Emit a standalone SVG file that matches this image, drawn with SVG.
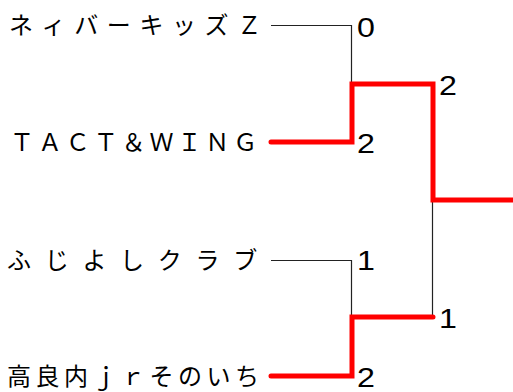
<svg xmlns="http://www.w3.org/2000/svg" width="513" height="392" viewBox="0 0 513 392">
<style>
.team{font-family:"Noto Sans CJK JP","Noto Sans",sans-serif;font-size:24px;fill:#000}
.score{font-family:"Liberation Sans",Arial,sans-serif;font-size:28px;fill:#000}
.thin{fill:none;stroke:#222;stroke-width:1.2}
.win{fill:none;stroke:#ff0000;stroke-width:5;stroke-linecap:round;stroke-linejoin:miter}
</style>
<rect width="513" height="392" fill="#fff"/>
<g id="connectors">
<path class="thin" d="M271,25.5 H351.5 V84"/>
<path class="thin" d="M271,260.5 H351.5 V317"/>
<path class="thin" d="M432.5,200 V317"/>
<path class="win" d="M271,142 H352 V84 H433 V200 H515"/>
<path class="win" d="M271,376 H352 V317 H433"/>
</g>
<g id="team1"><text class="team" x="9" y="34" letter-spacing="8.6">ネィバーキッズＺ</text></g>
<g id="team2"><text class="team" x="10" y="151" letter-spacing="3.9">ＴＡＣＴ＆ＷＩＮＧ</text></g>
<g id="team3"><text class="team" x="7" y="269" letter-spacing="13.7">ふじよしクラブ</text></g>
<g id="team4"><text class="team" x="7" y="385" letter-spacing="4.5">高良内ｊｒそのいち</text></g>
<g id="score1"><text class="score" transform="translate(357,37) scale(1.15,1)">0</text></g>
<g id="score2"><text class="score" transform="translate(357,153) scale(1.15,1)">2</text></g>
<g id="score3"><text class="score" transform="translate(357,270) scale(1.15,1)">1</text></g>
<g id="score4"><text class="score" transform="translate(357,387) scale(1.15,1)">2</text></g>
<g id="score5"><text class="score" transform="translate(439,95) scale(1.15,1)">2</text></g>
<g id="score6"><text class="score" transform="translate(439,328) scale(1.15,1)">1</text></g>
</svg>
